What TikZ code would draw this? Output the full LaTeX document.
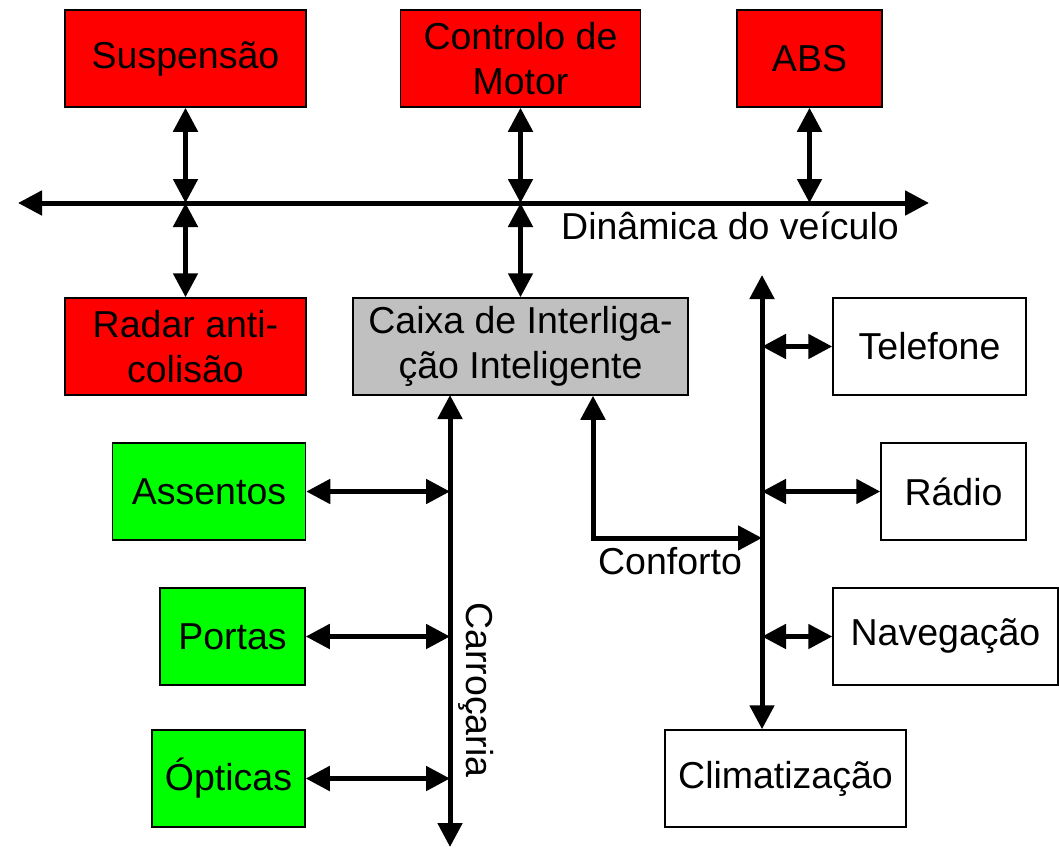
\documentclass[tikz,border=0pt]{standalone}
\usepackage{fontspec}
\setmainfont{Liberation Sans}
\usetikzlibrary{arrows.meta}
\definecolor{boxred}{RGB}{255,0,0}
\definecolor{boxgreen}{RGB}{0,255,0}
\definecolor{boxgray}{RGB}{192,192,192}
\begin{document}
\begin{tikzpicture}[x=1pt,y=-1pt,
  unit/.style={draw=black,line width=1.5pt,inner sep=0pt,minimum height=97pt,
    align=center,font=\fontsize{37.5}{45}\selectfont},
  bus/.style={line width=5pt,{Triangle[length=24pt,width=24pt]}-{Triangle[length=24pt,width=24pt]}},
  lbl/.style={font=\fontsize{37.5}{45}\selectfont,inner sep=0pt}]
\useasboundingbox (0,0) rectangle (1059,848);

% vehicle dynamics units
\node[unit,fill=boxred,minimum width=241pt] (susp) at (185.5,58.5) {Suspensão};
\node[unit,fill=boxred,minimum width=240pt] (motor) at (520.5,58.5) {Controlo de\\Motor};
\node[unit,fill=boxred,minimum width=145pt] (abs) at (809.5,58.5) {ABS};
\node[unit,fill=boxred,minimum width=241pt] (radar) at (185.5,346.5) {Radar anti-\\colisão};
\node[unit,fill=boxgray,minimum width=335pt] (caixa) at (520.5,346.5) {Caixa de Interliga-\\ção Inteligente};

% comfort units
\node[unit,fill=white,minimum width=193pt] (tel) at (929.5,346.5) {Telefone};
\node[unit,fill=white,minimum width=145pt] (radio) at (953.5,491.5) {Rádio};
\node[unit,fill=white,minimum width=225pt] (nav) at (945.5,636.5) {Navegação};
\node[unit,fill=white,minimum width=241pt] (clim) at (785.5,778.5) {Climatização};

% body units
\node[unit,fill=boxgreen,minimum width=193pt] (assentos) at (209,491.5) {Assentos};
\node[unit,fill=boxgreen,minimum width=145pt] (portas) at (232.5,636.5) {Portas};
\node[unit,fill=boxgreen,minimum width=153pt] (opticas) at (228.5,778.5) {Ópticas};

% bus end points and junctions
\coordinate (dynL) at (18,203);
\coordinate (dynR) at (929,203);
\coordinate (jS) at (185.5,203);
\coordinate (jM) at (520.5,203);
\coordinate (jA) at (809.5,203);
\coordinate (carTop) at (450,395);
\coordinate (carBot) at (450,847);
\coordinate (conTop) at (762,275);
\coordinate (conTurn) at (593,538);
\coordinate (conJoin) at (762,538);

% vehicle dynamics bus
\draw[bus] (dynL) -- (dynR);
\draw[bus] (susp.south) -- (jS);
\draw[bus] (jS) -- (radar.north);
\draw[bus] (motor.south) -- (jM);
\draw[bus] (jM) -- (caixa.north);
\draw[bus] (abs.south) -- (jA);
\node[lbl,anchor=north] at (730,212) {Dinâmica do veículo};

% body bus
\draw[bus] (carTop) -- (carBot);
\draw[bus] (assentos.east) -- (assentos.east -| carTop);
\draw[bus] (portas.east) -- (portas.east -| carTop);
\draw[bus] (opticas.east) -- (opticas.east -| carTop);
\node[lbl,rotate=-90] at (476,690) {Carroçaria};

% comfort bus
\draw[bus] (conTop) -- (clim.north -| conTop);
\draw[bus] (caixa.south -| conTurn) -- (conTurn) -- (conJoin);
\draw[bus] (tel.west -| conTop) -- (tel.west);
\draw[bus] (radio.west -| conTop) -- (radio.west);
\draw[bus] (nav.west -| conTop) -- (nav.west);
\node[lbl,anchor=north] at (670,547) {Conforto};
\end{tikzpicture}
\end{document}
